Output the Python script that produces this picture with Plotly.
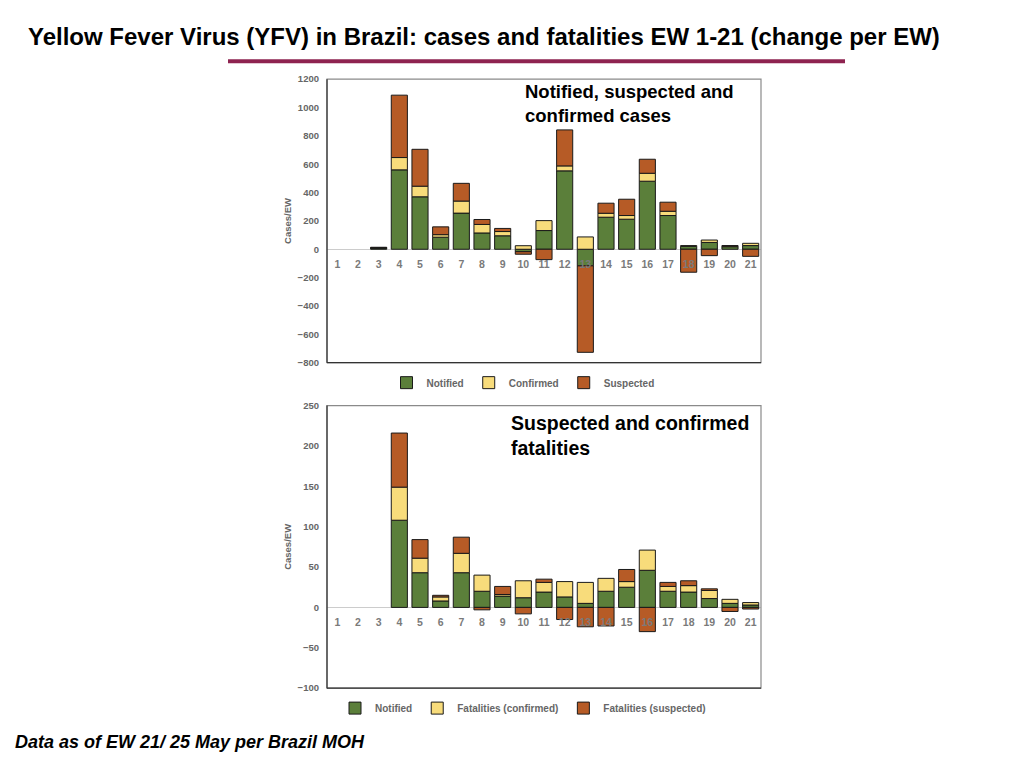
import plotly.graph_objects as go

# epidemiological weeks
weeks = [str(i) for i in range(1, 22)]

# change per EW - cases (top panel)
cases_notified = [None, None, 8, 560, 370, 85, 255, 115, 95, -17, 132, 553, -117, 226, 212, 480, 238, 20, 48, 18, 26]
cases_confirmed = [None, None, 3, 87, 75, 18, 85, 60, 30, 25, 70, 35, 87, 28, 26, 56, 30, 6, 17, 4, 16]
cases_suspected = [None, None, 3, 440, 260, 55, 125, 35, 22, -18, -73, 254, -610, 71, 115, 99, 64, -162, -45, 4, -50]

# change per EW - fatalities (bottom panel)
fat_notified = [None, None, None, 108, 43, 8, 43, 20, 14, 12, 19, 13, 5, 20, 25, 46, 20, 19, 11, 5, 3]
fat_confirmed = [None, None, None, 41, 18, 5, 24, 20, 2, 21, 12, 19, 26, 16, 7, 25, 6, 8, 10, 5, 3]
fat_suspected = [None, None, None, 67, 23, 2, 20, -3, 10, -8, 4, -15, -24, -23, 15, -30, 5, 6, 2, -5, -2]

GREEN, YELLOW, BROWN = "#5B7F3A", "#F8DC7B", "#B65B26"
FONT = "Liberation Sans, Arial, sans-serif"
GREY = "#666666"

# the page body has an 8px margin, so the figure is 16px smaller than the window;
# vertical placement tuned against the screenshot
W, H, OFF = 1008, 752, 8


def px(x):
    return (x - OFF) / W


def py(y):
    return 1 - ((y - 12.75) / 0.987) / H


X_DOM = [px(327), px(761)]
TOP_DOM = [py(362), py(78)]
BOT_DOM = [py(688), py(405)]
TOP_RANGE = [-800, 1200]
BOT_RANGE = [-100, 250]


def zero_pos(dom, rng):
    return dom[0] + (0 - rng[0]) / (rng[1] - rng[0]) * (dom[1] - dom[0])


fig = go.Figure()
bar_line = dict(color="#1a1a1a", width=1)

for name, vals, col in [("Notified", cases_notified, GREEN),
                        ("Confirmed", cases_confirmed, YELLOW),
                        ("Suspected", cases_suspected, BROWN)]:
    fig.add_trace(go.Bar(x=weeks, y=vals, name=name, marker=dict(color=col, line=bar_line),
                         xaxis="x", yaxis="y", legend="legend"))

for name, vals, col in [("Notified", fat_notified, GREEN),
                        ("Fatalities (confirmed)", fat_confirmed, YELLOW),
                        ("Fatalities (suspected)", fat_suspected, BROWN)]:
    fig.add_trace(go.Bar(x=weeks, y=vals, name=name, marker=dict(color=col, line=bar_line),
                         xaxis="x2", yaxis="y2", legend="legend2"))

tick_font = dict(family=FONT, size=9.5, color=GREY, weight="bold")
xcommon = dict(domain=X_DOM, type="category", showline=False, showgrid=False, ticks="",
               tickfont=dict(family=FONT, size=10.5, color="#7a7a7a", weight="bold"),
               ticklabelstandoff=7, anchor="free", fixedrange=True)
ycommon = dict(showgrid=False, showline=False, zeroline=True, zerolinecolor="#cccccc", zerolinewidth=1,
               tickfont=tick_font, ticks="", ticklabelstandoff=7,
               title=dict(text="Cases/EW", font=dict(family=FONT, size=9.5, color=GREY, weight="bold"),
                          standoff=4))

shapes = []
for yd in ["y domain", "y2 domain"]:
    xd = "x domain" if yd == "y domain" else "x2 domain"
    shapes.append(dict(type="rect", xref=xd, yref=yd, x0=0, x1=1, y0=0, y1=1,
                       line=dict(color="#8a8a8a", width=1.2), layer="above"))
    shapes.append(dict(type="line", xref=xd, yref=yd, x0=0, x1=0, y0=0, y1=1,
                       line=dict(color="#333333", width=1.2), layer="above"))
    shapes.append(dict(type="line", xref=xd, yref=yd, x0=0, x1=1, y0=0, y1=0,
                       line=dict(color="#333333", width=1.2), layer="above"))
# maroon rule under the title
shapes.append(dict(type="line", xref="paper", yref="paper", x0=px(228), x1=px(845),
                   y0=py(60), y1=py(60), line=dict(color="#8E2350", width=4)))

legend_common = dict(orientation="h", xanchor="center", yanchor="middle", bgcolor="rgba(0,0,0,0)",
                     font=dict(family=FONT, size=10, color=GREY, weight="bold"),
                     itemwidth=30, tracegroupgap=0, traceorder="normal")

fig.update_layout(
    width=W, height=H, autosize=False,
    margin=dict(l=0, r=0, t=0, b=0),
    paper_bgcolor="white", plot_bgcolor="white",
    barmode="relative", bargap=0.22,
    font=dict(family=FONT),
    xaxis=dict(**xcommon, position=zero_pos(TOP_DOM, TOP_RANGE)),
    yaxis=dict(**ycommon, domain=TOP_DOM, range=TOP_RANGE, dtick=200, anchor="x"),
    xaxis2=dict(**xcommon, position=zero_pos(BOT_DOM, BOT_RANGE)),
    yaxis2=dict(**ycommon, domain=BOT_DOM, range=BOT_RANGE, dtick=50, anchor="x2"),
    legend=dict(**legend_common, x=px(523), y=py(382)),
    legend2=dict(**legend_common, x=px(523), y=py(708)),
    shapes=shapes,
    annotations=[
        dict(text="<b>Yellow Fever Virus (YFV) in Brazil: cases and fatalities EW 1-21 (change per EW)</b>",
             xref="paper", yref="paper", x=px(26), y=py(35), xanchor="left", yanchor="middle",
             showarrow=False, font=dict(family=FONT, size=24, color="black")),
        dict(text="<b>Notified, suspected and<br>confirmed cases</b>",
             xref="paper", yref="paper", x=px(523), y=py(78), xanchor="left", yanchor="top",
             align="left", showarrow=False, font=dict(family=FONT, size=18.5, color="black")),
        dict(text="<b>Suspected and confirmed<br>fatalities</b>",
             xref="paper", yref="paper", x=px(509), y=py(409), xanchor="left", yanchor="top",
             align="left", showarrow=False, font=dict(family=FONT, size=19.5, color="black")),
        dict(text="<b><i>Data as of EW 21/ 25 May per Brazil MOH</i></b>",
             xref="paper", yref="paper", x=px(13), y=py(742), xanchor="left", yanchor="middle",
             showarrow=False, font=dict(family=FONT, size=18, color="black")),
    ],
)

fig.write_html("out.html")
